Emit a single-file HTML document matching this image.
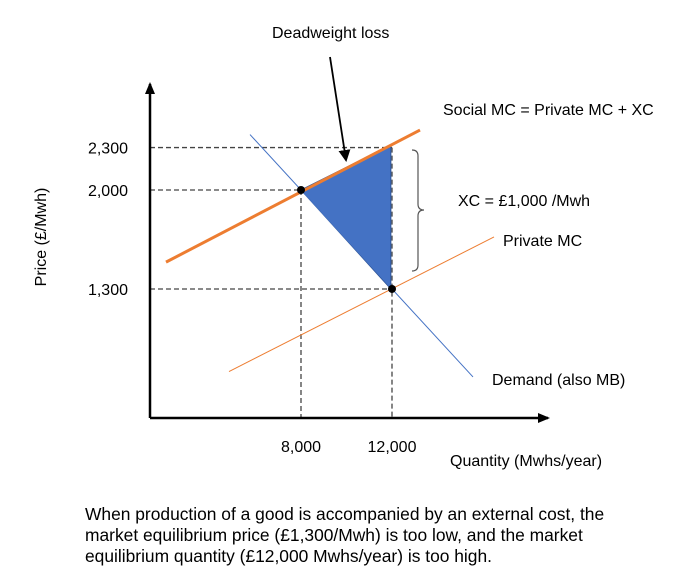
<!DOCTYPE html>
<html><head><meta charset="utf-8"><style>
body{margin:0;background:#fff;width:674px;height:572px;overflow:hidden}
svg{display:block;font-family:"Liberation Sans",Calibri,sans-serif}
</style></head><body>
<svg id="c" width="674" height="572">
<defs><marker id="ah" markerUnits="userSpaceOnUse" markerWidth="12" markerHeight="10" refX="10" refY="5" orient="auto"><path d="M0,0 L12,5 L0,10 z" fill="#000"/></marker>
<marker id="ah2" markerUnits="userSpaceOnUse" markerWidth="12" markerHeight="12" refX="10" refY="6" orient="auto"><path d="M0,0 L12,6 L0,12 z" fill="#000"/></marker></defs>
</svg>
<script>
const priceTicks=[2300,2000,1300];
const priceLabels=["2,300","2,000","1,300"];
const qtyTicks=[8000,12000];
const qtyLabels=["8,000","12,000"];
const socialMC=[[2066,1490],[13231,2424]];
const privateMC=[[4835,716],[16484,1668]];
const demand=[[5758,2392],[15560,678]];
const dwl=[[8000,2000],[11950,2318],[11950,1300]];
const eqPoints=[[8000,2000],[12000,1300]];
const X=q=>301+(q-8000)*0.02275;
const Y=p=>190-(p-2000)*0.1414;
const svg=document.getElementById('c');
const NS='http://www.w3.org/2000/svg';
function mk(t,a,txt){const e=document.createElementNS(NS,t);for(const k in a)e.setAttribute(k,a[k]);if(txt!=null)e.textContent=txt;svg.appendChild(e);return e;}
let e;
priceTicks.forEach((p,i)=>{
 const xEnd=p===2000?X(8000):X(12000);
 e=mk('line',{x1:150,y1:Y(p),x2:xEnd,y2:Y(p),stroke:'#444','stroke-width':1.3,'stroke-dasharray':'5,3'});
 
 e=mk('text',{x:128,y:Y(p)+6,'font-size':16,'text-anchor':'end'},priceLabels[i]);
 
});
qtyTicks.forEach((q,i)=>{
 const yTop=q===8000?Y(2000):Y(2300);
 e=mk('line',{x1:X(q),y1:yTop,x2:X(q),y2:418,stroke:'#444','stroke-width':1.3,'stroke-dasharray':'5,3'});
 
 e=mk('text',{x:X(q),y:452,'font-size':16,'text-anchor':'middle'},qtyLabels[i]);
 
});
e=mk('polygon',{points:dwl.map(d=>X(d[0])+','+Y(d[1])).join(' '),fill:'#4472C4',stroke:'#2F5597','stroke-width':1});

e=mk('line',{x1:X(demand[0][0]),y1:Y(demand[0][1]),x2:X(demand[1][0]),y2:Y(demand[1][1]),stroke:'#4472C4','stroke-width':1});

e=mk('line',{x1:X(privateMC[0][0]),y1:Y(privateMC[0][1]),x2:X(privateMC[1][0]),y2:Y(privateMC[1][1]),stroke:'#ED7D31','stroke-width':1});

e=mk('line',{x1:X(socialMC[0][0]),y1:Y(socialMC[0][1]),x2:X(socialMC[1][0]),y2:Y(socialMC[1][1]),stroke:'#ED7D31','stroke-width':3});

eqPoints.forEach(d=>{
 e=mk('circle',{cx:X(d[0]),cy:Y(d[1]),r:4,fill:'#000'});
 
});
e=mk('line',{x1:150,y1:418,x2:150,y2:84,stroke:'#000','stroke-width':2.5,'marker-end':'url(#ah)'});

e=mk('line',{x1:150,y1:418,x2:548,y2:418,stroke:'#000','stroke-width':2.5,'marker-end':'url(#ah)'});

e=mk('path',{d:'M412,150 Q418,150 418,156 L418,204 Q418,210 424,210 Q418,210 418,216 L418,265 Q418,271 412,271',fill:'none',stroke:'#555','stroke-width':1.2});

e=mk('line',{x1:330,y1:57,x2:346,y2:160,stroke:'#000','stroke-width':1.8,'marker-end':'url(#ah2)'});

const T=[[272,38,'Deadweight loss','start','dwl-label'],[443,115,'Social MC = Private MC + XC','start','social-mc-label'],
[458,206,'XC = £1,000 /Mwh','start','xc-label'],[503,246,'Private MC','start','private-mc-label'],
[492,385,'Demand (also MB)','start','demand-label'],[450,466,'Quantity (Mwhs/year)','start','x-axis-title']];
T.forEach(t=>{e=mk('text',{x:t[0],y:t[1],'font-size':16,'text-anchor':t[3]},t[2]);
 });
e=mk('text',{x:0,y:0,'font-size':16,'text-anchor':'middle',transform:'translate(46,237) rotate(-90)'},'Price (£/Mwh)');

['When production of a good is accompanied by an external cost, the','market equilibrium price (£1,300/Mwh) is too low, and the market','equilibrium quantity (£12,000 Mwhs/year) is too high.'].forEach((s,i)=>{
 e=mk('text',{x:85,y:520+i*21,'font-size':17.4},s);
 });
</script>
</body></html>
